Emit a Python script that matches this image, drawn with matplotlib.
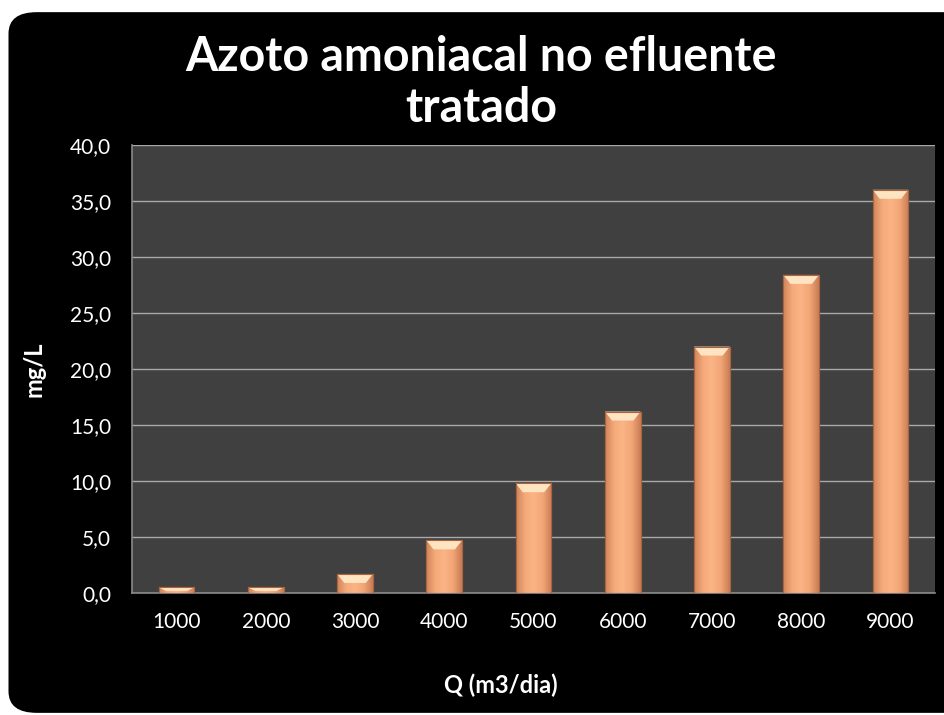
import matplotlib.pyplot as plt
import numpy as np
from matplotlib.patches import FancyBboxPatch
from matplotlib.colors import LinearSegmentedColormap

vazao = ['1000', '2000', '3000', '4000', '5000', '6000', '7000', '8000', '9000']
azoto = [0.5, 0.5, 1.7, 4.7, 9.8, 16.2, 22.0, 28.4, 36.0]
yticks = [0, 5, 10, 15, 20, 25, 30, 35, 40]

plt.rcParams['font.family'] = ['Lato', 'DejaVu Sans']

fig = plt.figure(figsize=(9.44, 7.15), dpi=100)
fig.patch.set_facecolor('white')

# black rounded panel behind everything
panel = FancyBboxPatch((0.009, 0.003), 1.05, 0.98, boxstyle='round,pad=0,rounding_size=0.03',
                       transform=fig.transFigure, facecolor='black', edgecolor='none', zorder=-1)
fig.patches.append(panel)

ax = fig.add_axes([0.1398, 0.1706, 0.8507, 0.6266])
ax.set_facecolor('#404040')

x = np.arange(len(vazao))
bars = ax.bar(x, azoto, width=0.4, color='#F0A070', edgecolor='#B87048', linewidth=0.8, zorder=3)

# horizontal shading on each bar
grad = np.linspace(0, 1, 64).reshape(1, -1)
grad = np.vstack([grad, grad])
cmap = LinearSegmentedColormap.from_list(
    'peach', ['#D0845A', '#F5AA7A', '#FBB486', '#F3A676', '#C97D55'])
for b in bars:
    bx, by = b.get_x(), b.get_y()
    bw, bh = b.get_width(), b.get_height()
    im = ax.imshow(grad, cmap=cmap, extent=[bx, bx + bw, by, by + bh],
                   aspect='auto', zorder=3.5, interpolation='bicubic')
    im.set_clip_path(b)
    # lighter bevel on the top edge
    cap = min(0.8, bh * 0.6)
    ax.fill([bx, bx + bw, bx + bw * 0.8, bx + bw * 0.2],
            [by + bh, by + bh, by + bh - cap, by + bh - cap],
            color='#FFE4C2', zorder=3.6, lw=0)
    ax.add_patch(plt.Rectangle((bx, by), bw, bh, fill=False, edgecolor='#A8643E',
                               linewidth=0.8, zorder=3.7))

ax.set_xlim(-0.5, len(vazao) - 0.5)
ax.set_ylim(0, 40)
ax.set_yticks(yticks)
ax.set_yticklabels([f'{v:.1f}'.replace('.', ',') for v in yticks])
ax.set_xticks(x)
ax.set_xticklabels(vazao)
ax.yaxis.grid(True, color='#A8A8A8', linewidth=1.0, zorder=1)
ax.set_axisbelow(True)
ax.tick_params(colors='white', labelsize=15, length=0)
ax.tick_params(axis='y', pad=15)
ax.tick_params(axis='x', pad=14)
for s in ['top', 'right']:
    ax.spines[s].set_visible(False)
for s in ['left', 'bottom']:
    ax.spines[s].set_color('#8A8A8A')
    ax.spines[s].set_linewidth(1.2)

fig.text(0.51, 0.885, 'Azoto amoniacal no efluente\ntratado', ha='center', va='center',
         color='white', fontsize=33.5, fontweight='bold', linespacing=1.2)
fig.text(0.53, 0.041, 'Q (m3/dia)', ha='center', va='center', color='white',
         fontsize=17, fontweight='bold')
fig.text(0.036, 0.483, 'mg/L', ha='center', va='center', rotation=90, color='white',
         fontsize=17, fontweight='bold')

fig.savefig('out.png', dpi=100, facecolor=fig.get_facecolor())
